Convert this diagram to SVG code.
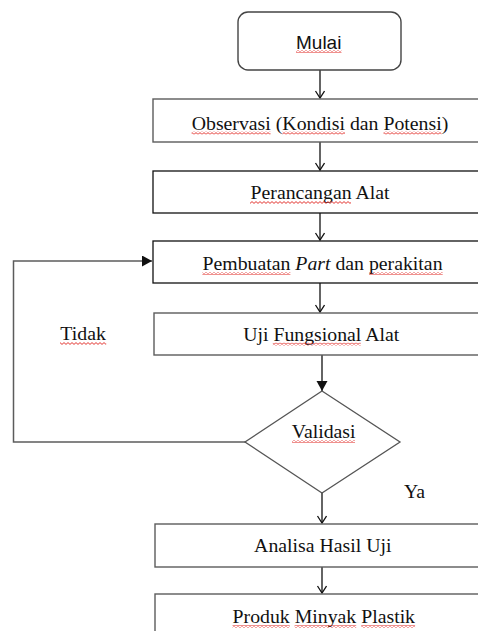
<svg xmlns="http://www.w3.org/2000/svg" width="478" height="631" viewBox="0 0 478 631">
<style>
.t{font-family:"Liberation Serif","Times New Roman",serif;font-size:19.8px;fill:#111;text-anchor:middle}
.s{font-family:"Liberation Sans",Arial,sans-serif;font-size:19px;fill:#111;text-anchor:middle}
.bg{fill:#fff;stroke:#5c5c5c;stroke-width:1.4}
.bk{fill:#fff;stroke:#111;stroke-width:1.3}
.ln{fill:none;stroke:#111;stroke-width:1.3}
.lg{fill:none;stroke:#5c5c5c;stroke-width:1.5}
.w{fill:url(#wave)}
</style>
<defs>
<pattern id="wave" x="0" y="0" width="4" height="3" patternUnits="userSpaceOnUse">
<path d="M0 0.6 L2 2.4 L4 0.6" fill="none" stroke="#e0201c" stroke-width="0.9"/>
</pattern>
<marker id="open" markerUnits="userSpaceOnUse" markerWidth="12" markerHeight="12" refX="8" refY="5" orient="auto">
<path d="M1 0.5 L8 5 L1 9.5" fill="none" stroke="#111" stroke-width="1.3"/>
</marker>
<marker id="fill" markerUnits="userSpaceOnUse" markerWidth="14" markerHeight="14" refX="10" refY="5.5" orient="auto">
<path d="M0 0 L10 5.5 L0 11 Z" fill="#111"/>
</marker>
</defs>

<g id="connectors">
<line class="ln" x1="320" y1="70" x2="320" y2="98" marker-end="url(#open)"/>
<line class="ln" x1="320" y1="142" x2="320" y2="170" marker-end="url(#open)"/>
<line class="ln" x1="320" y1="213" x2="320" y2="240" marker-end="url(#open)"/>
<line class="ln" x1="320" y1="283" x2="320" y2="312" marker-end="url(#open)"/>
<line class="ln" x1="322" y1="355" x2="322" y2="391" stroke-width="1.6" marker-end="url(#fill)"/>
<line class="ln" x1="322" y1="493" x2="322" y2="523" marker-end="url(#open)"/>
<line class="ln" x1="322" y1="567" x2="322" y2="593" marker-end="url(#open)"/>
<polyline class="lg" points="245,442 13.5,442 13.5,261 152,261" marker-end="url(#fill)"/>
</g>

<g id="mulai">
<rect x="238" y="12" width="163" height="58" rx="10" fill="#fff" stroke="#444" stroke-width="1.4"/>
<text class="s" x="318.7" y="48.5">Mulai</text>
<rect class="w" x="296" y="50" width="45.5" height="3"/>
</g>

<g id="observasi">
<rect class="bg" x="153" y="99" width="340" height="43"/>
<text class="t" x="320" y="129.5">Observasi (Kondisi dan Potensi)</text>
<rect class="w" x="191.6" y="131.5" width="79" height="3"/>
<rect class="w" x="282.3" y="131.5" width="62.7" height="3"/>
<rect class="w" x="383.5" y="131.5" width="58" height="3"/>
</g>

<g id="perancangan">
<rect class="bk" x="153" y="171" width="340" height="42"/>
<text class="t" x="320" y="199">Perancangan Alat</text>
<rect class="w" x="250" y="201" width="101" height="3"/>
</g>

<g id="pembuatan">
<rect class="bk" x="153" y="241" width="340" height="42"/>
<text class="t" x="322.5" y="270"><tspan>Pembuatan </tspan><tspan font-style="italic">Part</tspan><tspan> dan perakitan</tspan></text>
<rect class="w" x="202.4" y="272" width="88" height="3"/>
<rect class="w" x="369" y="272" width="73.7" height="3"/>
</g>

<g id="uji">
<rect class="bg" x="154" y="313" width="340" height="42"/>
<text class="t" x="321.2" y="340.7">Uji Fungsional Alat</text>
<rect class="w" x="272.8" y="342.7" width="88" height="3"/>
</g>

<g id="validasi">
<polygon points="322,391 400,442 322,493 245,442" fill="#fff" stroke="#555" stroke-width="1.3"/>
<text class="t" x="323.7" y="438">Validasi</text>
<rect class="w" x="292" y="440" width="63" height="3"/>
</g>

<g id="label-tidak">
<text class="t" x="83.1" y="340">Tidak</text>
<rect class="w" x="60" y="342" width="46.2" height="3"/>
</g>

<g id="label-ya">
<text class="t" x="414.5" y="498">Ya</text>
</g>

<g id="analisa">
<rect class="bg" x="155" y="524" width="340" height="43"/>
<text class="t" x="322.8" y="551.7">Analisa Hasil Uji</text>
</g>

<g id="produk">
<rect class="bg" x="155" y="594" width="340" height="60"/>
<text class="t" x="323.8" y="623">Produk Minyak Plastik</text>
<rect class="w" x="232.5" y="625" width="57.2" height="3"/>
<rect class="w" x="294.6" y="625" width="61.6" height="3"/>
<rect class="w" x="361.2" y="625" width="53.9" height="3"/>
</g>
</svg>
